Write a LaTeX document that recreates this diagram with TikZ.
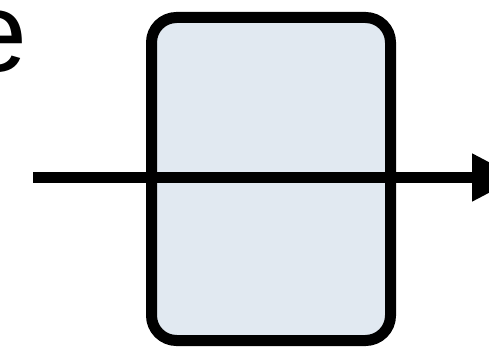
\documentclass[tikz,border=0pt]{standalone}
\usepackage{fontspec}
\setmainfont{Liberation Sans}
\usetikzlibrary{arrows.meta}
\definecolor{boxfill}{RGB}{225,233,241}
\tikzset{
  blockbox/.style={draw=black, line width=11pt, fill=boxfill, rounded corners=25pt,
    minimum width=239pt, minimum height=323pt, inner sep=0pt, outer sep=0pt},
  flowline/.style={line width=11pt, -{Triangle[length=47pt,width=45pt]}},
  bigtext/.style={font=\fontsize{113}{113}\selectfont, inner sep=0pt, anchor=base east}
}
\begin{document}
\begin{tikzpicture}[x=1pt,y=1pt]
\useasboundingbox (0,0) rectangle (489,348);
\clip (0,0) rectangle (489,348);
\node[blockbox] (box) at (271,169) {};
\node[bigtext] (lbl) at (27.5,276) {e};
\coordinate (start) at (33,170.5);
\coordinate (end) at (519,170.5);
\draw[flowline] (start) -- (end);
\end{tikzpicture}
\end{document}
